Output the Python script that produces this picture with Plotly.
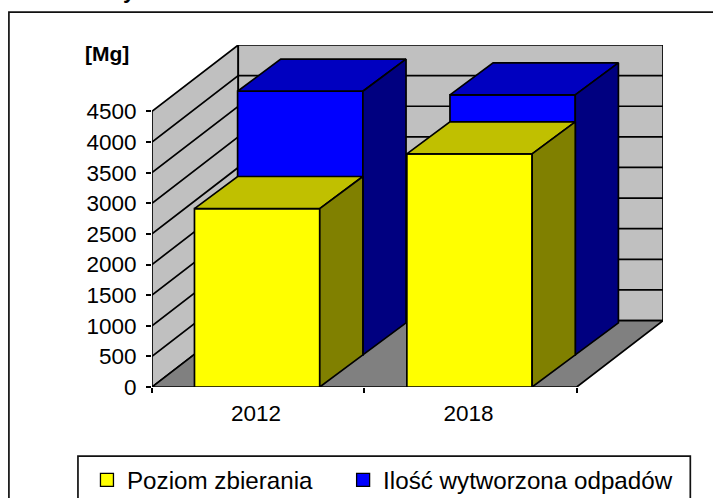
import plotly.graph_objects as go

categories = ["2012", "2018"]
poziom_zbierania = [2914, 3807]
ilosc_wytworzona = [4307, 4247]
y_ticks = [0, 500, 1000, 1500, 2000, 2500, 3000, 3500, 4000, 4500]
series_names = ["Poziom zbierania", "Ilość wytworzona odpadów"]

W, H = 713, 498
ML, MR, MT, MB = 152, 50.3, 45, 110.7
DX, DY = 86 / 211.75, 66.5 / 275.8 * 4500   # oblique depth in data units
BAR_DY = 0.965                              # bars recede slightly less steeply than the walls
YMAX = 4500
GAP = 0.2
BAR_W = 0.59
LW = 1.7
n = len(categories)


def px(x):
    return (x - ML) / (W - ML - MR)


def py(y):
    return 1 - (y - MT) / (H - MT - MB)


def proj(x, y, d, s=1.0):
    return x + d * DX, y + d * DY * s


def poly(points, fill, line_width=LW):
    xs = [p[0] for p in points]
    ys = [p[1] for p in points]
    return go.Scatter(x=xs + xs[:1], y=ys + ys[:1], mode="lines", fill="toself", fillcolor=fill,
                      line=dict(color="black", width=line_width), showlegend=False,
                      hoverinfo="skip", cliponaxis=False)


def box(x0, w, d0, d1, value, front, top, side):
    a = proj(x0, 0, d0, BAR_DY)
    b = proj(x0 + w, 0, d0, BAR_DY)
    c = proj(x0 + w, value, d0, BAR_DY)
    e = proj(x0, value, d0, BAR_DY)
    f = proj(x0, value, d1, BAR_DY)
    g = proj(x0 + w, value, d1, BAR_DY)
    h = proj(x0 + w, 0, d1, BAR_DY)
    return [poly([a, b, c, e], front), poly([e, c, g, f], top), poly([b, h, g, c], side)]


fig = go.Figure()

# walls and floor
fig.add_trace(poly([proj(0, 0, 0), proj(0, 0, 1), proj(0, YMAX, 1), proj(0, YMAX, 0)], "#C0C0C0"))
fig.add_trace(poly([proj(0, 0, 1), proj(n, 0, 1), proj(n, YMAX, 1), proj(0, YMAX, 1)], "#C0C0C0"))
fig.add_trace(poly([proj(0, 0, 0), proj(n, 0, 0), proj(n, 0, 1), proj(0, 0, 1)], "#808080"))

# gridlines
for v in y_ticks[1:-1]:
    p = [proj(0, v, 0), proj(0, v, 1), proj(n, v, 1)]
    fig.add_trace(go.Scatter(x=[q[0] for q in p], y=[q[1] for q in p], mode="lines",
                             line=dict(color="black", width=LW), showlegend=False,
                             hoverinfo="skip", cliponaxis=False))

# bars
for i in range(n):
    for t in box(i + GAP, BAR_W, 0.5, 1.0, ilosc_wytworzona[i], "#0000FF", "#0000C0", "#000080"):
        fig.add_trace(t)
    for t in box(i + GAP, BAR_W, 0.0, 0.5, poziom_zbierania[i], "#FFFF00", "#C0C000", "#808000"):
        fig.add_trace(t)

# legend entries
for name, col, lg in zip(series_names, ["#FFFF00", "#0000FF"], ["legend", "legend2"]):
    fig.add_trace(go.Scatter(x=[None], y=[None], mode="markers", name=name, legend=lg,
                             marker=dict(symbol="square", size=13, color=col,
                                         line=dict(color="black", width=1.3))))

FONT = "Liberation Sans, Arial, sans-serif"
legend_style = dict(xanchor="left", yanchor="top", y=py(458), bgcolor="rgba(0,0,0,0)", borderwidth=0,
                    itemclick=False, itemdoubleclick=False,
                    font=dict(family=FONT, size=24.2, color="black"))
fig.update_layout(
    width=W, height=H, autosize=False,
    margin=dict(l=ML, r=MR, t=MT, b=MB, autoexpand=False),
    paper_bgcolor="white", plot_bgcolor="white",
    font=dict(family=FONT, size=22.5, color="black"),
    xaxis=dict(range=[0, n + DX], showgrid=False, zeroline=False, showline=False,
               tickmode="array", tickvals=[0.49, 1.49], ticktext=categories,
               ticks="", ticklabelstandoff=10,
               minor=dict(tickmode="array", tickvals=[0, 1, 2], ticks="outside", ticklen=5,
                          tickwidth=1.7, tickcolor="black", showgrid=False),
               fixedrange=True),
    yaxis=dict(range=[0, YMAX + DY], showgrid=False, zeroline=False, showline=False,
               tickmode="array", tickvals=y_ticks, ticktext=[str(v) for v in y_ticks],
               ticks="outside", ticklen=5, tickwidth=1.7, tickcolor="black",
               ticklabelstandoff=5, fixedrange=True),
    legend=dict(x=px(87), **legend_style),
    legend2=dict(x=px(343), **legend_style),
    shapes=[
        dict(type="rect", xref="paper", yref="paper", layer="below",
             x0=px(9), x1=px(730), y0=py(520), y1=py(12),
             line=dict(color="#111", width=1.7), fillcolor="white"),
        dict(type="rect", xref="paper", yref="paper", layer="below",
             x0=px(78), x1=px(690), y0=py(520), y1=py(456.5),
             line=dict(color="#111", width=1.7), fillcolor="white"),
    ],
    annotations=[
        dict(text="<b>[Mg]</b>", xref="paper", yref="paper", x=px(107), y=py(54),
             xanchor="center", yanchor="middle",
             showarrow=False, font=dict(family=FONT, size=21, color="black")),
        dict(text="<b>y</b>", xref="paper", yref="paper", x=px(130), y=py(-10),
             xanchor="center", yanchor="middle",
             showarrow=False, font=dict(family=FONT, size=22, color="black")),
    ],
)

fig.write_html("out.html", post_script="document.body.style.margin='0';",
               config=dict(displayModeBar=False))
